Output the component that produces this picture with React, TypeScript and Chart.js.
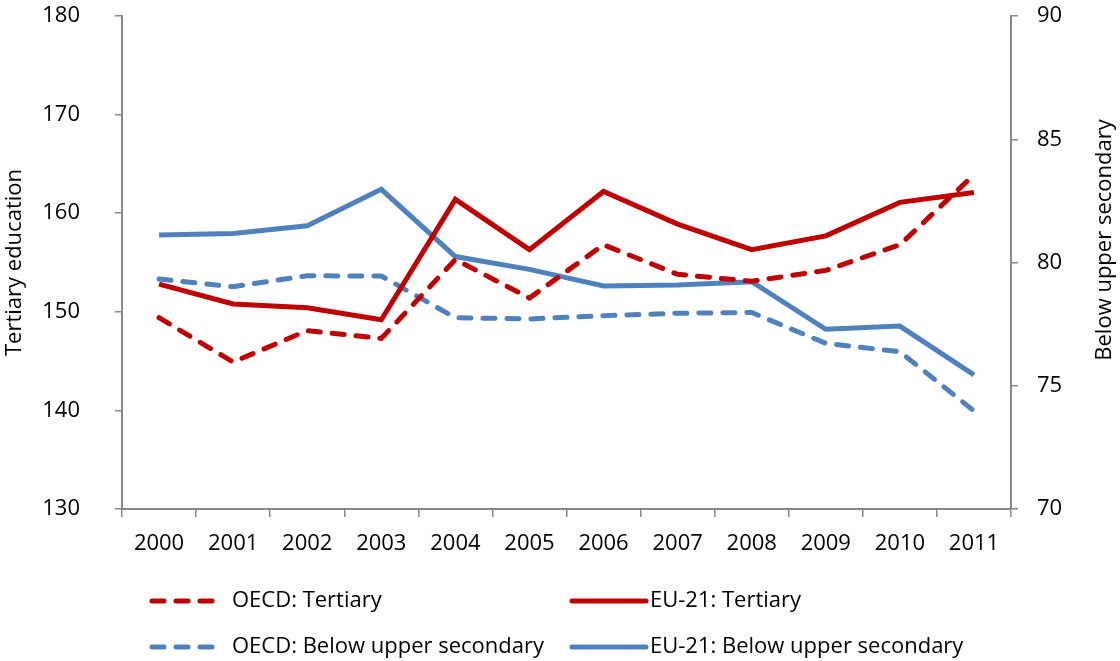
import React, { useEffect, useRef } from 'react';
import { Chart, registerables } from 'chart.js';

Chart.register(...registerables);

const years = ['2000', '2001', '2002', '2003', '2004', '2005', '2006', '2007', '2008', '2009', '2010', '2011'];
const oecdTertiary = [149.4, 144.9, 148.1, 147.3, 155.3, 151.4, 156.8, 153.8, 153.1, 154.2, 156.8, 163.9];
const euTertiary = [152.8, 150.8, 150.4, 149.2, 161.4, 156.3, 162.2, 158.9, 156.3, 157.7, 161.1, 162.1];
const oecdBelow = [79.33, 79.02, 79.46, 79.45, 77.76, 77.71, 77.84, 77.94, 77.97, 76.72, 76.38, 73.98];
const euBelow = [81.12, 81.18, 81.49, 82.97, 80.24, 79.72, 79.05, 79.09, 79.22, 77.29, 77.42, 75.44];

const leftTicks = [130, 140, 150, 160, 170, 180];
const rightTicks = [70, 75, 80, 85, 90];

const RED = '#C00000';
const BLUE = '#4F81BD';
const AXIS = '#898989';
const FONT = "'Open Sans'";
const FS = 22;

const legendPlugin = {
  id: 'customLegend',
  afterDraw(chart: any) {
    const ctx = chart.ctx as CanvasRenderingContext2D;
    const items = [
      { ds: 0, x0: 152, x1: 214, tx: 232, y: 601 },
      { ds: 1, x0: 572, x1: 646, tx: 650, y: 601 },
      { ds: 2, x0: 152, x1: 214, tx: 232, y: 647 },
      { ds: 3, x0: 572, x1: 646, tx: 650, y: 647 },
    ];
    ctx.save();
    for (const it of items) {
      const ds = chart.data.datasets[it.ds];
      ctx.beginPath();
      ctx.strokeStyle = ds.borderColor;
      ctx.lineWidth = ds.borderWidth;
      ctx.lineCap = 'round';
      ctx.setLineDash(ds.borderDash || []);
      ctx.moveTo(it.x0, it.y);
      ctx.lineTo(it.x1, it.y);
      ctx.stroke();
      ctx.setLineDash([]);
      ctx.fillStyle = '#000';
      ctx.font = `${FS}px ${FONT}`;
      ctx.textAlign = 'left';
      ctx.textBaseline = 'middle';
      ctx.fillText(ds.label, it.tx, it.y);
    }
    // right axis title, reading bottom-to-top
    ctx.translate(1105, 240);
    ctx.rotate(-Math.PI / 2);
    ctx.textAlign = 'center';
    ctx.textBaseline = 'middle';
    ctx.fillStyle = '#000';
    ctx.font = `${FS}px ${FONT}`;
    ctx.fillText('Below upper secondary', 0, 0);
    ctx.restore();
  },
};

export default function App() {
  const ref = useRef<HTMLCanvasElement>(null);

  useEffect(() => {
    document.body.style.margin = '0';
    const canvas = ref.current;
    if (!canvas) return;
    const chart = new Chart(canvas, {
      type: 'line',
      data: {
        labels: years,
        datasets: [
          {
            label: 'OECD: Tertiary',
            data: oecdTertiary,
            yAxisID: 'y',
            borderColor: RED,
            backgroundColor: RED,
            borderWidth: 5,
            borderDash: [12, 12],
            borderCapStyle: 'round',
            pointRadius: 0,
            tension: 0,
          },
          {
            label: 'EU-21: Tertiary',
            data: euTertiary,
            yAxisID: 'y',
            borderColor: RED,
            backgroundColor: RED,
            borderWidth: 5,
            pointRadius: 0,
            tension: 0,
          },
          {
            label: 'OECD: Below upper secondary',
            data: oecdBelow,
            yAxisID: 'y1',
            borderColor: BLUE,
            backgroundColor: BLUE,
            borderWidth: 5,
            borderDash: [12, 12],
            borderCapStyle: 'round',
            pointRadius: 0,
            tension: 0,
          },
          {
            label: 'EU-21: Below upper secondary',
            data: euBelow,
            yAxisID: 'y1',
            borderColor: BLUE,
            backgroundColor: BLUE,
            borderWidth: 5,
            pointRadius: 0,
            tension: 0,
          },
        ],
      },
      options: {
        responsive: false,
        animation: false,
        layout: { padding: { top: 16, left: 0, right: 0, bottom: 0 } },
        plugins: {
          legend: { display: false },
          tooltip: { enabled: false },
        },
        scales: {
          x: {
            type: 'category',
            offset: true,
            grid: {
              display: true,
              offset: true,
              drawOnChartArea: false,
              drawTicks: true,
              tickLength: 8,
              color: AXIS,
              lineWidth: 1.5,
            },
            border: { display: true, color: AXIS, width: 2 },
            ticks: {
              color: '#000',
              font: { family: FONT, size: FS },
              padding: 14,
              maxRotation: 0,
              autoSkip: false,
            },
            afterFit(scale: any) {
              scale.height = 152;
              scale.paddingLeft = 0;
              scale.paddingRight = 0;
            },
          },
          y: {
            type: 'linear',
            position: 'left',
            min: 130,
            max: 180,
            afterBuildTicks(scale: any) {
              scale.ticks = leftTicks.map((v) => ({ value: v }));
            },
            grid: {
              display: true,
              drawOnChartArea: false,
              drawTicks: true,
              tickLength: 7,
              color: AXIS,
              lineWidth: 1.5,
            },
            border: { display: true, color: AXIS, width: 2 },
            ticks: {
              color: '#000',
              font: { family: FONT, size: FS },
              padding: 35,
            },
            title: {
              display: true,
              text: 'Tertiary education',
              color: '#000',
              font: { family: FONT, size: FS },
              padding: { top: 2, bottom: 0 },
            },
            afterFit(scale: any) {
              scale.width = 122;
              scale.paddingTop = 0;
              scale.paddingBottom = 0;
            },
          },
          y1: {
            type: 'linear',
            position: 'right',
            min: 70,
            max: 90,
            afterBuildTicks(scale: any) {
              scale.ticks = rightTicks.map((v) => ({ value: v }));
            },
            grid: {
              display: true,
              drawOnChartArea: false,
              drawTicks: true,
              tickLength: 7,
              color: AXIS,
              lineWidth: 1.5,
            },
            border: { display: true, color: AXIS, width: 2 },
            ticks: {
              color: '#000',
              font: { family: FONT, size: FS },
              padding: 19,
            },
            afterFit(scale: any) {
              scale.width = 109;
              scale.paddingTop = 0;
              scale.paddingBottom = 0;
            },
          },
        },
      },
      plugins: [legendPlugin],
    });
    return () => chart.destroy();
  }, []);

  return (
    <div style={{ position: 'absolute', left: 0, top: 0, width: 1120, height: 661 }}>
      <canvas ref={ref} width={1120} height={661} />
    </div>
  );
}
